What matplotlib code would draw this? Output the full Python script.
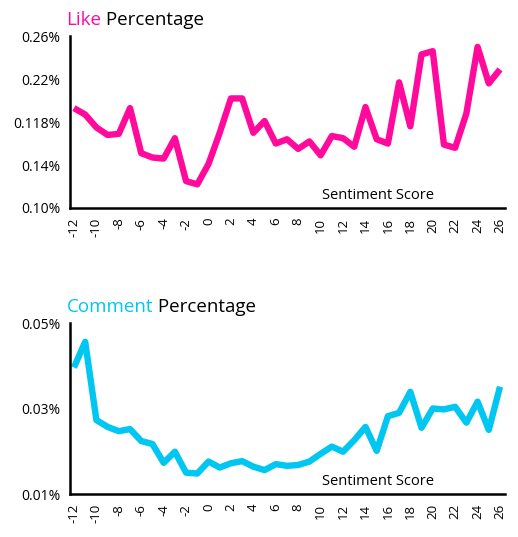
import matplotlib
matplotlib.use("Agg")
import matplotlib.pyplot as plt

plt.rcParams["font.family"] = ["Open Sans", "DejaVu Sans"]

# ---------------------------------------------- DATA ---------------------------------------------- #

sentiment = list(range(-12, 27))

like_pct = [
    0.193, 0.187, 0.175, 0.168, 0.169, 0.193, 0.151, 0.147, 0.146, 0.165,
    0.125, 0.122, 0.141, 0.170, 0.202, 0.202, 0.170, 0.181, 0.160, 0.164,
    0.155, 0.162, 0.149, 0.167, 0.165, 0.157, 0.194, 0.164, 0.160, 0.217,
    0.176, 0.243, 0.246, 0.159, 0.156, 0.188, 0.250, 0.216, 0.229,
]

comment_pct = [
    0.0396, 0.0456, 0.0273, 0.0257, 0.0247, 0.0252, 0.0224, 0.0217, 0.0173, 0.0199,
    0.0150, 0.0148, 0.0176, 0.0162, 0.0172, 0.0177, 0.0164, 0.0156, 0.0170, 0.0166,
    0.0168, 0.0176, 0.0194, 0.0211, 0.0199, 0.0226, 0.0257, 0.0201, 0.0282, 0.0290,
    0.0339, 0.0255, 0.0300, 0.0298, 0.0304, 0.0267, 0.0316, 0.0250, 0.0351,
]

like_yticks = [0.10, 0.14, 0.18, 0.22, 0.26]
like_ylabels = ["0.10%", "0.14%", "0.118%", "0.22%", "0.26%"]

comment_yticks = [0.01, 0.03, 0.05]
comment_ylabels = ["0.01%", "0.03%", "0.05%"]

xticks = list(range(-12, 27, 2))

LIKE_COLOR = "#ff0a9c"
COMMENT_COLOR = "#00c6f2"

# ------------------------------------------------------------------------------------------------- #


def draw_panel(ax, y, color, yticks, ylabels, word):
    ax.plot(sentiment, y, color=color, lw=4.6, solid_joinstyle="round", solid_capstyle="butt")
    ax.set_xlim(-12.36, 26.45)
    ax.set_ylim(yticks[0], yticks[-1])
    ax.set_xticks(xticks)
    ax.set_xticklabels([str(t) for t in xticks], rotation=90, fontsize=9.5)
    ax.set_yticks(yticks)
    ax.set_yticklabels(ylabels, fontsize=10)
    ax.tick_params(length=0, pad=7)
    for side in ("top", "right"):
        ax.spines[side].set_visible(False)
    for side in ("left", "bottom"):
        ax.spines[side].set_linewidth(1.8)
        ax.spines[side].set_color("black")

    ax.text(0.708, 0.03, "Sentiment Score", transform=ax.transAxes,
            ha="center", va="bottom", fontsize=10.5)

    t = ax.text(-0.008, 1.04, word, transform=ax.transAxes, color=color,
                fontsize=13.5, ha="left", va="bottom")
    ax.annotate(" Percentage", xy=(1, 0), xycoords=t, ha="left", va="bottom",
                fontsize=13.5, color="black")


fig = plt.figure(figsize=(5.18, 5.37), dpi=100)
ax_like = fig.add_axes([0.135, 0.6127, 0.840, 0.320])
ax_comment = fig.add_axes([0.135, 0.080, 0.840, 0.3185])

draw_panel(ax_like, like_pct, LIKE_COLOR, like_yticks, like_ylabels, "Like")
draw_panel(ax_comment, comment_pct, COMMENT_COLOR, comment_yticks, comment_ylabels, "Comment")

fig.savefig("out.png", dpi=100)
